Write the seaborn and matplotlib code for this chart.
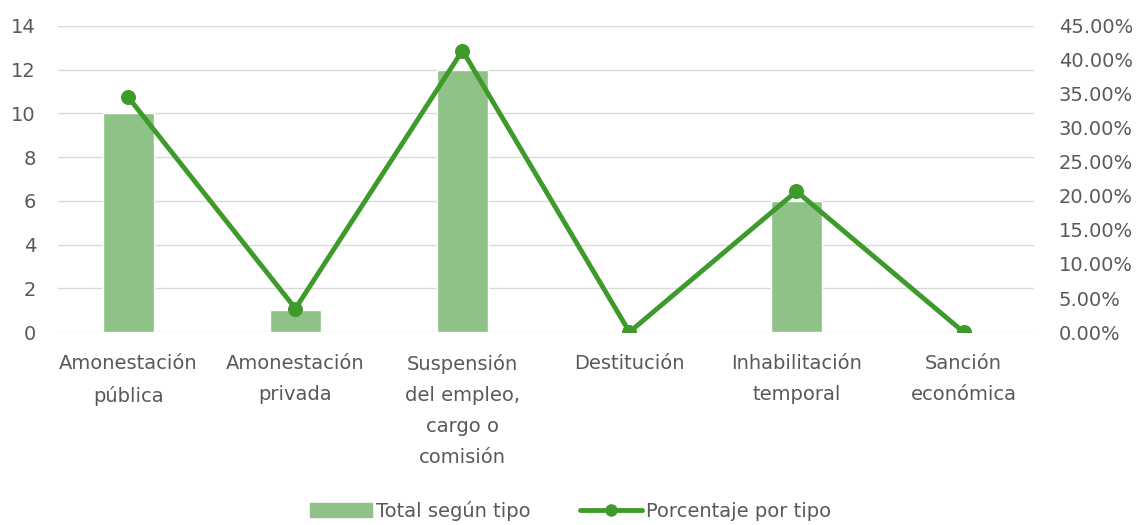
import numpy as np
import pandas as pd
import seaborn as sns
import matplotlib.pyplot as plt
from matplotlib.patches import Patch
from matplotlib.lines import Line2D
from matplotlib.ticker import PercentFormatter

categories = ['Amonestación\npública', 'Amonestación\nprivada', 'Suspensión\ndel empleo,\ncargo o\ncomisión',
              'Destitución', 'Inhabilitación\ntemporal', 'Sanción\neconómica']
totals = [10, 1, 12, 0, 6, 0]
percentages = [0.3448, 0.0345, 0.4138, 0.0, 0.2069, 0.0]

bar_color = '#8fc286'
line_color = '#3f9a2c'
text_color = '#595959'

sns.set_style('white')
plt.rcParams['font.family'] = ['DejaVu Sans']

df = pd.DataFrame({'tipo': categories, 'total': totals, 'pct': percentages})

fig = plt.figure(figsize=(11.41, 5.25), dpi=100)
ax = fig.add_axes([0.051, 0.3676, 0.855, 0.583])
sns.barplot(data=df, x='tipo', y='total', color=bar_color, width=0.31, saturation=1, ax=ax)
ax.set_ylim(0, 14)
ax.set_yticks(range(0, 15, 2))
ax.yaxis.grid(True, color='#d9d9d9', linewidth=1)
ax.set_axisbelow(True)
ax.set_xlabel('')
ax.set_ylabel('')
ax.tick_params(axis='both', length=0, colors=text_color, labelsize=14)
ax.tick_params(axis='x', pad=16)
ax.tick_params(axis='y', pad=16)
for lbl in ax.get_xticklabels():
    lbl.set_linespacing(1.8)
    lbl.set_va('top')

ax2 = ax.twinx()
sns.lineplot(data=df, x='tipo', y='pct', color=line_color, linewidth=3.5, marker='o',
             markersize=10, markeredgecolor=line_color, ax=ax2)
ax2.set_ylim(0, 0.45)
ax2.set_yticks(np.arange(0, 0.451, 0.05))
ax2.yaxis.set_major_formatter(PercentFormatter(1.0, decimals=2))
ax2.set_ylabel('')
ax2.tick_params(axis='y', length=0, colors=text_color, labelsize=14, pad=18)

for a in (ax, ax2):
    for s in a.spines.values():
        s.set_visible(False)

handles = [Patch(color=bar_color, label='Total según tipo'),
           Line2D([0], [0], color=line_color, linewidth=3.5, marker='o', markersize=8,
                  label='Porcentaje por tipo')]
leg = fig.legend(handles=handles, loc='lower center', bbox_to_anchor=(0.5, -0.025), ncol=2,
                 frameon=False, fontsize=14, handlelength=3.2, handletextpad=0.2, columnspacing=2.5)
for t in leg.get_texts():
    t.set_color(text_color)

fig.savefig('out.png', dpi=100)
